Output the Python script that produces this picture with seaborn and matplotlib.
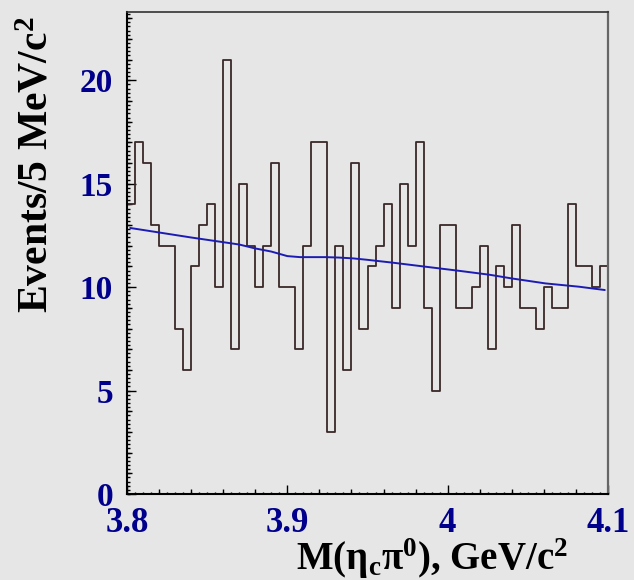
import numpy as np
import pandas as pd
import seaborn as sns
import matplotlib
matplotlib.use("Agg")
import matplotlib.pyplot as plt
from matplotlib.ticker import MultipleLocator

# Events per 5 MeV/c^2 bin, 3.80 - 4.10 GeV/c^2
bin_lo = 3.80
bin_hi = 4.10
n_bins = 60
counts = [14, 17, 16, 13, 12, 12, 8, 6, 11, 13,
          14, 10, 21, 7, 15, 12, 10, 12, 16, 10,
          10, 7, 12, 17, 17, 3, 12, 6, 16, 8,
          11, 12, 14, 9, 15, 12, 17, 9, 5, 13,
          13, 9, 9, 10, 12, 7, 11, 10, 13, 9,
          9, 8, 10, 9, 9, 14, 11, 11, 10, 11]

# Fitted curve, sampled along the mass axis
fit_mass = [3.802, 3.840, 3.870, 3.880, 3.890, 3.900, 3.908, 3.924, 3.932,
            3.941, 3.950, 3.966, 3.987, 4.007, 4.026, 4.040, 4.061, 4.082, 4.098]
fit_vals = [12.86, 12.40, 12.06, 11.87, 11.72, 11.50, 11.45, 11.45, 11.43,
            11.39, 11.32, 11.18, 10.98, 10.79, 10.60, 10.42, 10.18, 10.02, 9.86]

x_ticks = [3.8, 3.9, 4.0, 4.1]
x_ticklabels = ["3.8", "3.9", "4", "4.1"]
y_ticks = [0, 5, 10, 15, 20]

bg = "#e6e6e6"
label_blue = "#00008c"
hist_color = "#3a2828"
fit_color = "#1c1cb4"

sns.set_theme(style="white")
plt.rcParams["font.family"] = ["Liberation Serif", "DejaVu Serif"]
plt.rcParams["font.weight"] = "bold"
plt.rcParams["mathtext.fontset"] = "custom"
plt.rcParams["mathtext.rm"] = "Liberation Serif:bold"
plt.rcParams["mathtext.it"] = "Liberation Serif:bold"
plt.rcParams["mathtext.bf"] = "Liberation Serif:bold"

width = (bin_hi - bin_lo) / n_bins
centers = bin_lo + width * (np.arange(n_bins) + 0.5)
hist_df = pd.DataFrame({"mass": centers, "n": counts})
fit_df = pd.DataFrame({"mass": fit_mass, "fit": fit_vals})

fig = plt.figure(figsize=(6.34, 5.80), dpi=100, facecolor=bg)
ax = fig.add_axes([127 / 634, 1 - 494 / 580, 481 / 634, 482 / 580], facecolor=bg)

sns.histplot(data=hist_df, x="mass", weights="n", bins=n_bins,
             binrange=(bin_lo, bin_hi), element="step", fill=False,
             color=hist_color, linewidth=1.3, ax=ax)
sns.lineplot(data=fit_df, x="mass", y="fit", color=fit_color,
             linewidth=1.4, ax=ax)

ax.set_xlim(bin_lo, bin_hi)
ax.set_ylim(0, 23.3)

# frame
for side, col, lw in [("left", "#000000", 1.5), ("bottom", "#000000", 1.5),
                      ("top", "#333333", 1.2), ("right", "#666666", 1.6)]:
    ax.spines[side].set_visible(True)
    ax.spines[side].set_color(col)
    ax.spines[side].set_linewidth(lw)

# major / medium ticks
ax.set_xticks(x_ticks)
ax.set_xticklabels(x_ticklabels)
ax.set_yticks(y_ticks)
ax.xaxis.set_minor_locator(MultipleLocator(0.02))
ax.yaxis.set_minor_locator(MultipleLocator(1))
ax.tick_params(axis="both", which="major", direction="in", length=6.5,
               width=1.0, color="#000000", top=False, right=False,
               bottom=True, left=True)
ax.tick_params(axis="both", which="minor", direction="in", length=3.6,
               width=1.0, color="#000000", top=False, right=False,
               bottom=True, left=True)
ax.tick_params(axis="y", which="major", labelsize=24, labelcolor=label_blue, pad=10)
ax.tick_params(axis="x", which="major", labelsize=25, labelcolor=label_blue, pad=9)
for t in ax.get_xticklabels() + ax.get_yticklabels():
    t.set_fontweight("bold")

# finest tick tier
sx = ax.secondary_xaxis("bottom")
sx.set_xticks(np.arange(3.8, 4.1001, 0.005))
sx.tick_params(direction="in", length=1.8, width=1.0, color="#000000",
               labelbottom=False)
sx.spines["bottom"].set_visible(False)
sy = ax.secondary_yaxis("left")
sy.set_yticks(np.arange(0, 23.3, 0.2))
sy.tick_params(direction="in", length=2.0, width=1.0, color="#000000",
               labelleft=False)
sy.spines["left"].set_visible(False)

ax.set_xlabel(r"M(η$_{c}$π$^{0}$), GeV/c$^{2}$", fontsize=28,
              fontweight="bold", color="black", loc="right")
ax.xaxis.set_label_coords(0.917, -0.089)
ax.set_ylabel(r"Events/5 MeV/c$^{2}$", fontsize=30, fontweight="bold",
              color="black", loc="top")
ax.yaxis.set_label_coords(-0.147, 0.99)

fig.savefig("out.png", dpi=100, facecolor=bg)
